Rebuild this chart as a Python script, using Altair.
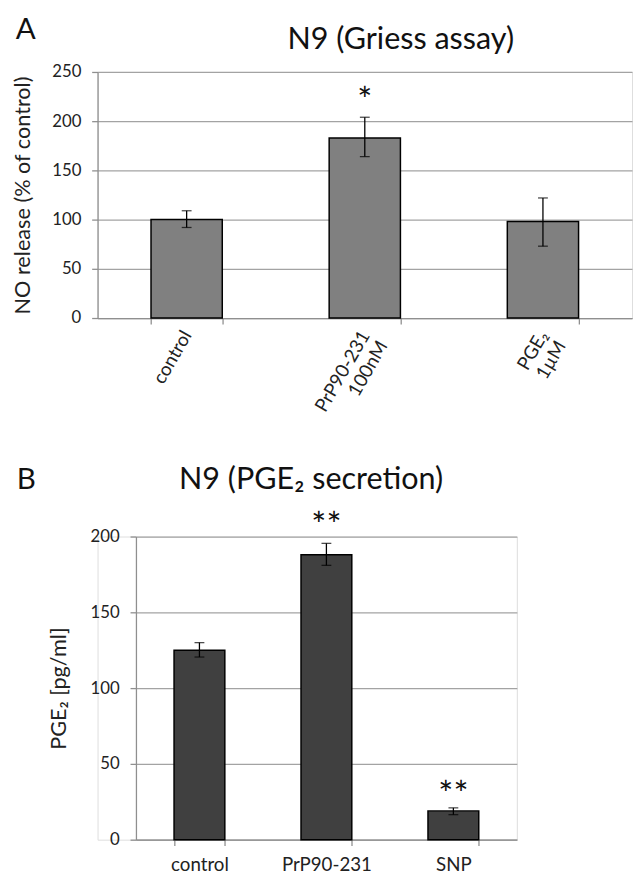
import altair as alt
import pandas as pd

FONT = "Lato"
NB = "\u00a0"

# Panel A: N9 (Griess assay)
a_categories = ["control", "PrP90-231|100nM" + NB * 4, "PGE₂|1µM" + NB * 2]
a_values = [100, 183, 98]
a_err_low = [92, 164, 73]
a_err_high = [109, 204, 122]
a_sig = ["", "*", ""]
a_sig_pos = [0, 226, 0]
a_ticks = [0, 50, 100, 150, 200, 250]

# Panel B: N9 (PGE2 secretion)
b_categories = ["control", "PrP90-231", "SNP"]
b_values = [125, 188, 19]
b_err_low = [120.5, 181, 16.5]
b_err_high = [130, 195.5, 21]
b_sig = ["", "**", "**"]
b_sig_pos = [0, 211, 33]
b_ticks = [0, 50, 100, 150, 200]

dfa = pd.DataFrame({"cat": a_categories, "val": a_values, "lo": a_err_low,
                    "hi": a_err_high, "sig": a_sig, "pos": a_sig_pos})
dfb = pd.DataFrame({"cat": b_categories, "val": b_values, "lo": b_err_low,
                    "hi": b_err_high, "sig": b_sig, "pos": b_sig_pos})

GRID = "#a3a3a3"
AX = "#8f8f8f"
TXT = "#222222"


def y_axis(title, values, title_size, plot_h, title_x):
    return alt.Axis(title=title, values=values, grid=True, gridColor=GRID, gridWidth=1.3,
                    domainColor=AX, domainWidth=1.3, tickColor=AX, tickWidth=1.3, tickSize=6,
                    labelFont=FONT, labelFontSize=17, labelColor=TXT, labelPadding=11,
                    titleFont=FONT, titleFontSize=title_size, titleFontWeight="normal",
                    titleColor=TXT, titleAngle=270, titleBaseline="middle", titleAlign="center",
                    titleX=title_x, titleY=plot_h / 2)


def text_layer(txt, x, y, size, align="left"):
    return alt.Chart(pd.DataFrame({"t": [txt]})).mark_text(
        font=FONT, fontSize=size, align=align, baseline="alphabetic", color="#111111"
    ).encode(x=alt.value(x), y=alt.value(y), text="t:N")


# ---------- Panel A ----------
xa_scale = alt.Scale(paddingInner=0.6, paddingOuter=0.3)
xa = alt.X("cat:N", sort=a_categories, scale=xa_scale, title=None,
           axis=alt.Axis(labelAngle=-60, labelExpr="split(datum.label, '|')", tickBand="extent",
                         domainColor=AX, domainWidth=1.3, tickColor=AX, tickWidth=1.3, tickSize=6,
                         labelFont=FONT, labelFontSize=19, labelColor=TXT, labelPadding=8,
                         labelLineHeight=21))
xa_plain = alt.X("cat:N", sort=a_categories, scale=xa_scale)
ya = alt.Y("val:Q", scale=alt.Scale(domain=[0, 250], nice=False),
           axis=y_axis("NO release (% of control)", a_ticks, 22, 250, -76))

base_a = alt.Chart(dfa)
bars_a = base_a.mark_bar(color="#808080", stroke="#000000", strokeWidth=1.5).encode(x=xa, y=ya)
rule_a = base_a.mark_rule(color="#000000", strokeWidth=1.3).encode(x=xa_plain, y="lo:Q", y2="hi:Q")
cap_lo_a = base_a.mark_tick(color="#000000", size=10, thickness=1.3).encode(x=xa_plain, y="lo:Q")
cap_hi_a = base_a.mark_tick(color="#000000", size=10, thickness=1.3).encode(x=xa_plain, y="hi:Q")
star_a = base_a.transform_filter("datum.sig != ''").mark_text(
    font=FONT, fontSize=36, baseline="middle", color="#111111", dy=6
).encode(x=xa_plain, y="pos:Q", text="sig:N")

panel_a = alt.layer(
    bars_a, rule_a, cap_lo_a, cap_hi_a, star_a,
    text_layer("A", -83, -33, 30),
    text_layer("N9 (Griess assay)", 308, -23, 31, align="center"),
).properties(width=543, height=250)

# ---------- Panel B ----------
xb_scale = alt.Scale(range=[39, 426], paddingInner=0.6, paddingOuter=0.3)
xb = alt.X("cat:N", sort=b_categories, scale=xb_scale, title=None,
           axis=alt.Axis(labelAngle=0, tickBand="extent",
                         domainColor=AX, domainWidth=1.3, tickColor=AX, tickWidth=1.3, tickSize=6,
                         labelFont=FONT, labelFontSize=19, labelColor=TXT, labelPadding=10))
xb_plain = alt.X("cat:N", sort=b_categories, scale=xb_scale)
yb_axis = y_axis("PGE₂ [pg/ml]", b_ticks, 22, 308, -79)
yb_axis.offset = -39
yb = alt.Y("val:Q", scale=alt.Scale(domain=[0, 200], nice=False), axis=yb_axis)

base_b = alt.Chart(dfb)
bars_b = base_b.mark_bar(color="#404040", stroke="#000000", strokeWidth=1.5).encode(x=xb, y=yb)
rule_b = base_b.mark_rule(color="#000000", strokeWidth=1.3).encode(x=xb_plain, y="lo:Q", y2="hi:Q")
cap_lo_b = base_b.mark_tick(color="#000000", size=10, thickness=1.3).encode(x=xb_plain, y="lo:Q")
cap_hi_b = base_b.mark_tick(color="#000000", size=10, thickness=1.3).encode(x=xb_plain, y="hi:Q")
star_b = base_b.transform_filter("datum.sig != ''").mark_text(
    font=FONT, fontSize=36, baseline="middle", color="#111111", dy=6
).encode(x=xb_plain, y="pos:Q", text="sig:N")

panel_b = alt.layer(
    bars_b, rule_b, cap_lo_b, cap_hi_b, star_b,
    text_layer("B", -82, -48, 30),
    text_layer("N9 (PGE₂ secretion)", 217, -48, 31, align="center"),
).properties(width=426, height=308)

chart = alt.vconcat(panel_a, panel_b, spacing=38).properties(
    padding={"left": 3, "top": 0, "right": 0, "bottom": 0}
).configure_view(stroke=None).configure(background="white")

chart.save("out.html", embed_options={"renderer": "svg", "actions": False})
